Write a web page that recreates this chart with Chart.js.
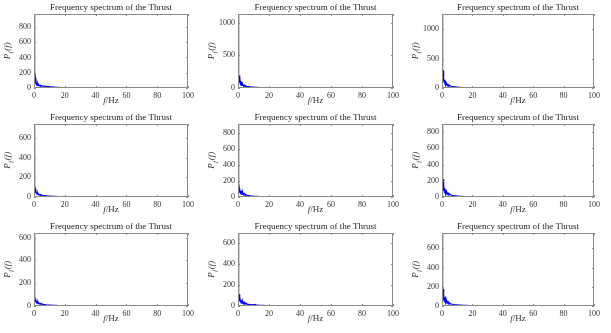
<!DOCTYPE html>
<html>
<head>
<meta charset="utf-8">
<script src="https://cdn.jsdelivr.net/npm/chart.js@4.4.1/dist/chart.umd.min.js"></script>
<style>
  html, body { margin: 0; padding: 0; background: #fff; }
  #wrap { position: relative; width: 611px; height: 333px; overflow: hidden; }
  #wrap canvas { position: absolute; }
</style>
</head>
<body>
<div id="wrap"></div>
<script>
// shared frequency axis (Hz)
const freq = [0, 0.2, 0.4, 0.6, 0.8, 1, 1.2, 1.5, 1.8, 2, 2.3, 2.6, 3, 3.5, 4, 4.5, 5, 6, 7, 8, 9, 10, 11, 12, 14, 16, 18, 20, 25, 30, 35, 40, 50, 60, 70, 80, 90, 100];

// spectrum of each panel, row by row
const thrust1 = [970, 520, 210, 90, 140, 60, 125, 45, 70, 35, 55, 30, 45, 28, 38, 22, 30, 20, 26, 15, 22, 18, 12, 14, 9, 8, 6, 5, 4, 3, 3, 2, 2, 2, 1, 1, 1, 1];
const thrust2 = [1130, 640, 260, 120, 190, 80, 175, 60, 110, 45, 90, 40, 60, 30, 45, 25, 32, 22, 20, 16, 14, 12, 10, 9, 7, 6, 5, 4, 3, 3, 2, 2, 2, 1, 1, 1, 1, 1];
const thrust3 = [1260, 700, 320, 150, 300, 110, 160, 90, 140, 60, 120, 50, 80, 40, 60, 35, 45, 30, 25, 20, 18, 15, 12, 10, 8, 6, 5, 4, 4, 3, 3, 2, 2, 2, 2, 1, 1, 1];
const thrust4 = [740, 400, 160, 60, 80, 45, 70, 35, 50, 28, 40, 25, 30, 20, 25, 18, 20, 15, 14, 12, 10, 9, 8, 7, 6, 5, 4, 3, 3, 2, 2, 2, 2, 1, 1, 1, 1, 1];
const thrust5 = [910, 480, 190, 70, 110, 55, 100, 45, 75, 40, 80, 35, 60, 30, 45, 25, 30, 20, 18, 14, 12, 10, 9, 8, 6, 5, 4, 3, 3, 2, 2, 2, 2, 1, 1, 1, 1, 1];
const thrust6 = [900, 500, 230, 110, 220, 80, 150, 60, 110, 50, 90, 40, 70, 35, 50, 30, 38, 25, 20, 16, 14, 12, 10, 9, 7, 6, 5, 4, 3, 3, 2, 2, 2, 2, 1, 1, 1, 1];
const thrust7 = [640, 330, 120, 45, 60, 35, 55, 30, 40, 25, 35, 20, 28, 18, 24, 15, 20, 12, 12, 10, 9, 8, 7, 6, 5, 4, 4, 3, 3, 2, 2, 2, 1, 1, 1, 1, 1, 1];
const thrust8 = [690, 380, 150, 60, 110, 45, 90, 40, 60, 30, 55, 28, 45, 22, 35, 20, 28, 16, 15, 12, 14, 10, 16, 8, 6, 5, 4, 4, 3, 3, 2, 2, 2, 1, 1, 1, 1, 1];
const thrust9 = [760, 420, 180, 80, 180, 60, 110, 50, 90, 40, 100, 35, 60, 30, 45, 25, 30, 20, 18, 15, 13, 12, 10, 9, 7, 6, 5, 4, 3, 3, 2, 2, 2, 2, 1, 1, 1, 1];

const series = [thrust1, thrust2, thrust3, thrust4, thrust5, thrust6, thrust7, thrust8, thrust9];

// y tick labels of each panel
const yTicks = [
  [0, 200, 400, 600, 800],
  [0, 500, 1000],
  [0, 500, 1000],
  [0, 200, 400, 600],
  [0, 200, 400, 600, 800],
  [0, 200, 400, 600, 800],
  [0, 200, 400, 600],
  [0, 200, 400, 600],
  [0, 200, 400, 600]
];
const xTicks = [0, 20, 40, 60, 80, 100];

const titleText = 'Frequency spectrum of the Thrust';
const serif = '"Liberation Serif", "Times New Roman", serif';

// cell geometry: canvas box and where the plot area sits inside it
const cols = [
  { x: 0,   w: 205, left: 34, right: 17 },
  { x: 205, w: 201, left: 33, right: 13 },
  { x: 406, w: 205, left: 36, right: 17 }
];
const rows = [
  { y: 0,   h: 111, top: 14, bottom: 23, titleY: 8 },
  { y: 111, h: 111, top: 13, bottom: 25, titleY: 7 },
  { y: 222, h: 111, top: 11, bottom: 27, titleY: 5 }
];

// box, inward ticks, title and the two axis labels, MATLAB style
const framePlugin = {
  id: 'frame',
  afterDraw(chart, args, opts) {
    const { ctx, chartArea: a, scales } = chart;
    ctx.save();
    ctx.strokeStyle = '#8a8a8a';
    ctx.lineWidth = 1;
    ctx.strokeRect(a.left + 0.5, a.top + 0.5, a.right - a.left - 1, a.bottom - a.top - 1);
    ctx.beginPath();
    scales.x.ticks.forEach(t => {
      const px = Math.round(scales.x.getPixelForValue(t.value)) + 0.5;
      ctx.moveTo(px, a.bottom); ctx.lineTo(px, a.bottom - 2);
      ctx.moveTo(px, a.top); ctx.lineTo(px, a.top + 2);
    });
    scales.y.ticks.forEach(t => {
      const py = Math.round(scales.y.getPixelForValue(t.value)) + 0.5;
      ctx.moveTo(a.left, py); ctx.lineTo(a.left + 2, py);
      ctx.moveTo(a.right, py); ctx.lineTo(a.right - 2, py);
    });
    ctx.stroke();

    const cx = (a.left + a.right) / 2;
    ctx.textBaseline = 'middle';

    // title, centred over the plot
    ctx.fillStyle = '#222';
    ctx.textAlign = 'center';
    ctx.font = '9px ' + serif;
    ctx.fillText(opts.title, cx, opts.titleY);

    // x label: f/Hz
    ctx.fillStyle = '#333';
    const xl = a.bottom + 13;
    ctx.font = 'italic 9px ' + serif;
    const wf = ctx.measureText('f').width;
    ctx.font = '9px ' + serif;
    const wr = ctx.measureText('/Hz').width;
    let x0 = cx - (wf + wr) / 2;
    ctx.textAlign = 'left';
    ctx.font = 'italic 9px ' + serif;
    ctx.fillText('f', x0, xl);
    ctx.font = '9px ' + serif;
    ctx.fillText('/Hz', x0 + wf, xl);

    // y label: P_f(f), rotated
    ctx.translate(a.left - 26, (a.top + a.bottom) / 2);
    ctx.rotate(-Math.PI / 2);
    ctx.font = 'italic 9px ' + serif;
    const wP = ctx.measureText('P').width;
    const wpar = ctx.measureText('(f)').width;
    ctx.font = 'italic 6px ' + serif;
    const ws = ctx.measureText('f').width;
    x0 = -(wP + ws + 1 + wpar) / 2;
    ctx.font = 'italic 9px ' + serif;
    ctx.fillText('P', x0, 0);
    ctx.font = 'italic 6px ' + serif;
    ctx.fillText('f', x0 + wP + 0.5, 3);
    ctx.font = 'italic 9px ' + serif;
    ctx.fillText('(f)', x0 + wP + ws + 1.5, 0);
    ctx.restore();
  }
};

const wrap = document.getElementById('wrap');

series.forEach((values, i) => {
  const col = cols[i % 3];
  const row = rows[Math.floor(i / 3)];
  const canvas = document.createElement('canvas');
  canvas.width = col.w;
  canvas.height = row.h;
  canvas.style.left = col.x + 'px';
  canvas.style.top = row.y + 'px';
  wrap.appendChild(canvas);

  new Chart(canvas.getContext('2d'), {
    type: 'line',
    data: {
      datasets: [{
        data: freq.map((f, k) => ({ x: f, y: values[k] })),
        borderColor: '#0000ff',
        borderWidth: 1.2,
        pointRadius: 0,
        tension: 0,
        fill: false
      }]
    },
    options: {
      responsive: false,
      animation: false,
      devicePixelRatio: 1,
      layout: { padding: { left: 0, right: col.right, top: row.top, bottom: 0 } },
      plugins: {
        legend: { display: false },
        tooltip: { enabled: false },
        title: { display: false },
        frame: { title: titleText, titleY: row.titleY }
      },
      scales: {
        x: {
          type: 'linear',
          min: 0,
          max: 100,
          afterFit: s => { s.height = row.bottom; },
          afterBuildTicks: s => { s.ticks = xTicks.map(v => ({ value: v })); },
          grid: { display: false, drawTicks: false },
          border: { display: false },
          ticks: { color: '#333', padding: 3, maxRotation: 0, font: { family: serif, size: 8 }, callback: v => String(v) }
        },
        y: {
          min: 0,
          max: Math.max(...values),
          afterFit: s => { s.width = col.left; },
          afterBuildTicks: s => { s.ticks = yTicks[i].map(v => ({ value: v })); },
          grid: { display: false, drawTicks: false },
          border: { display: false },
          ticks: { color: '#333', padding: 3, font: { family: serif, size: 8 }, callback: v => String(v) }
        }
      }
    },
    plugins: [framePlugin]
  });
});
</script>
</body>
</html>
